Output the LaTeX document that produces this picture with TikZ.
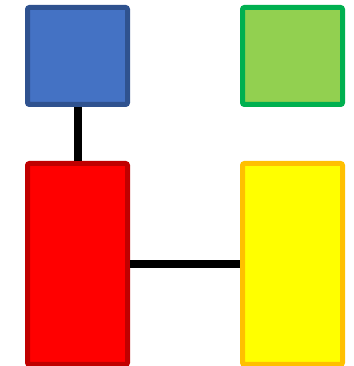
\documentclass[tikz,border=0pt]{standalone}
\usetikzlibrary{positioning}
\definecolor{cblue}{HTML}{4472C4}
\definecolor{cbluedark}{HTML}{2F528F}
\definecolor{cgreen}{HTML}{92D050}
\definecolor{cgreendark}{HTML}{00B050}
\definecolor{cred}{HTML}{FF0000}
\definecolor{creddark}{HTML}{C00000}
\definecolor{cyellow}{HTML}{FFFF00}
\definecolor{cyellowdark}{HTML}{FFC000}
\tikzset{
  block/.style={rectangle, line width=5pt, rounded corners=2pt, inner sep=0pt, minimum width=100pt},
  square/.style={block, minimum height=97pt},
  tall/.style={block, minimum height=201pt},
  link/.style={draw=black, line width=8pt},
}
\begin{document}
\begin{tikzpicture}[node distance=54pt and 110pt]
  \useasboundingbox (0,0) rectangle (353pt,366pt);
  \node[square, draw=cbluedark, fill=cblue] (b) at (77.5pt,310pt) {};
  \node[square, draw=cgreendark, fill=cgreen, right=of b] (g) {};
  \node[tall, draw=creddark, fill=cred, below=of b] (r) {};
  \node[tall, draw=cyellowdark, fill=cyellow, below=of g] (y) {};
  \draw[link] (b) -- (r); \draw[link] (r) -- (y);
\end{tikzpicture}
\end{document}
